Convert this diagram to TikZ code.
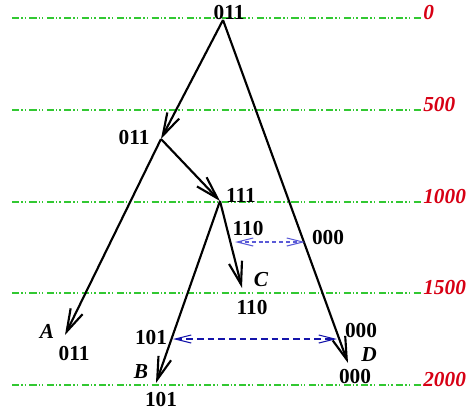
\documentclass[tikz,border=0pt]{standalone}
\usepackage{fontspec}
\setmainfont{Liberation Serif}
\usetikzlibrary{arrows.meta}
\definecolor{gridgreen}{RGB}{50,200,50}
\definecolor{depthred}{RGB}{215,0,20}
\definecolor{linkblue}{RGB}{90,90,215}
\definecolor{linkdark}{RGB}{20,20,170}
\begin{document}
\begin{tikzpicture}[x=0.75pt,y=0.75pt,yscale=-1,xscale=1,
  level/.style={draw=gridgreen,line width=0.9pt,dash pattern=on 5.3pt off 1.5pt on 1.1pt off 1.5pt on 1.1pt off 2.6pt},
  depth/.style={anchor=base west,inner sep=0pt,text=depthred,font=\fontsize{16}{16}\selectfont\bfseries\itshape},
  code/.style={inner sep=0pt,font=\fontsize{16}{16}\selectfont\bfseries},
  leaf/.style={inner sep=0pt,font=\fontsize{16}{16}\selectfont\bfseries\itshape},
  branch/.style={line width=1.6pt,-{Straight Barb[length=17pt,width=10pt,line width=1.6pt]}},
  swap/.style={line width=0.8pt,{Straight Barb[length=12pt,width=6pt,line width=0.8pt]}-{Straight Barb[length=12pt,width=6pt,line width=0.8pt]}}]
\useasboundingbox (0,0) rectangle (470,414);
% depth levels
\foreach \ly/\lab in {18/0,110/500,202/1000,293/1500,385/2000}{
  \draw [level] (12,\ly) -- (422,\ly);
  \node [depth] at (423,\ly+1) {\lab};
}
% tree points
\coordinate (root) at (223,20);
\coordinate (n1) at (161,139);
\coordinate (n2) at (220,201);
\coordinate (a) at (65,335);
\coordinate (b) at (156,383);
\coordinate (c) at (242,288);
\coordinate (d) at (348,363);
% branches
\draw [branch] (root) -- (n1);
\draw [branch] (n1) -- (n2);
\draw [branch] (n1) -- (a);
\draw [branch] (n2) -- (c);
\draw [branch] (n2) -- (b);
\draw [branch] (root) -- (d);
% swaps
\coordinate (s1l) at (235,242);
\coordinate (s1r) at (305,242);
\coordinate (s2l) at (173,339);
\coordinate (s2r) at (337,339);
\draw [swap,draw=linkblue,dash pattern=on 3pt off 2.2pt] (s1l) -- (s1r);
\draw [swap,draw=linkdark,dash pattern=on 5pt off 3pt] (s2l) -- (s2r);
% labels
\node [code] (lroot) at (229,13) {011};
\node [code] (ln1) at (134,138) {011};
\node [code] (ln2) at (241,195) {111};
\node [code] (lc1) at (248,229) {110};
\node [code] (ld1) at (328,238) {000};
\node [leaf] (la) at (47,331) {A};
\node [code] (la2) at (74,354) {011};
\node [leaf] (lc) at (261,280) {C};
\node [code] (lc2) at (252,308) {110};
\node [code] (lb1) at (151,338) {101};
\node [leaf] (lb) at (141,372) {B};
\node [code] (lb2) at (161,400) {101};
\node [code] (ld2) at (361,331) {000};
\node [leaf] (ld) at (369,355) {D};
\node [code] (ld3) at (355,377) {000};
\end{tikzpicture}
\end{document}
